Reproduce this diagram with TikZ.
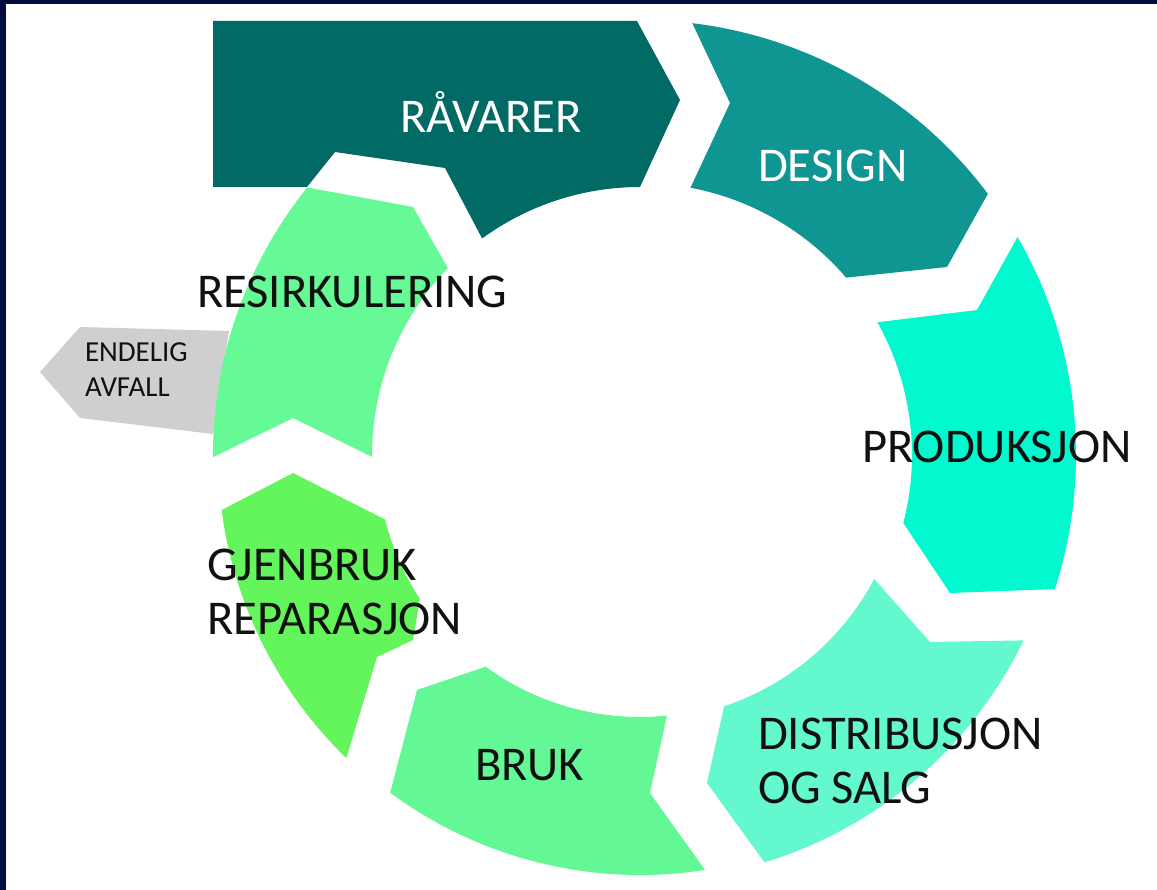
\documentclass[tikz,border=0pt]{standalone}
\usepackage{fontspec}
\setmainfont{Carlito}
\usetikzlibrary{calc}
\definecolor{navy}{RGB}{1,12,62}
\definecolor{rawc}{RGB}{1,106,101}
\definecolor{designc}{RGB}{16,150,146}
\definecolor{prodc}{RGB}{2,248,206}
\definecolor{distc}{RGB}{100,248,206}
\definecolor{brukc}{RGB}{100,247,150}
\definecolor{gjenc}{RGB}{100,245,92}
\definecolor{resc}{RGB}{102,250,150}
\definecolor{greyc}{RGB}{207,207,207}
\definecolor{ink}{RGB}{17,17,17}
\begin{document}
\begin{tikzpicture}[x=1pt,y=-1pt,
  lbl/.style={inner sep=0pt, outer sep=0pt, anchor=base west, text=ink, font=\fontsize{48.5}{54}\selectfont},
  lbltwo/.style={lbl, anchor=north west, align=left},
  smalllbl/.style={inner sep=0pt, outer sep=0pt, anchor=north west, align=left, text=ink, font=\fontsize{29}{35}\selectfont}]
\useasboundingbox (0,0) rectangle (1157,890);
\fill[white] (0,0) rectangle (1160,893);
\fill[navy] (-2,-2) rectangle (1160,4);
\fill[navy] (-2,-2) rectangle (6,893);
\coordinate (O) at (640,455);

% ENDELIG AVFALL (grey, behind)
\fill[greyc] (40,372) -- (80,327) -- (229,331) -- (213,434) -- (80,418) -- cycle;

% RAVARER
\fill[rawc] (213,21) -- (637,21) -- (680,100) -- ($(O)+(-90:268)$)
  arc[start angle=-90, end angle=-126.1, radius=268]
  -- (445,168) -- (335,152) -- (307,187) -- (213,187) -- cycle;

% DESIGN
\fill[designc] ($(O)+(-83.1:435)$) arc[start angle=-83.1, end angle=-36.9, radius=435]
  -- (947,267) -- ($(O)+(-40.7:272)$) arc[start angle=-40.7, end angle=-79.3, radius=272]
  -- (730,103) -- cycle;

% PRODUKSJON
\fill[prodc] ($(O)+(-30:436)$) arc[start angle=-30, end angle=17.9, radius=436]
  -- (950,593) -- ($(O)+(14.5:272)$) arc[start angle=14.5, end angle=-29.2, radius=272]
  -- (977,310) -- cycle;

% DISTRIBUSJON OG SALG
\fill[distc] ($(O)+(27.9:265)$) -- (930,642) -- ($(O)+(25.8:426)$)
  arc[start angle=25.8, end angle=73, radius=426]
  -- (707,783) -- ($(O)+(71.5:265)$) arc[start angle=71.5, end angle=27.9, radius=265] -- cycle;

% BRUK
\fill[brukc] ($(O)+(84.1:262)$) -- (650,793) -- ($(O)+(81.1:420)$)
  arc[start angle=81.1, end angle=126.5, radius=420]
  -- (417,690) -- ($(O)+(126.1:262)$) arc[start angle=126.1, end angle=84.1, radius=262] -- cycle;

% GJENBRUK REPARASJON
\fill[gjenc] (293,473) -- ($(O)+(165.8:263)$) arc[start angle=165.8, end angle=146.8, radius=263]
  -- (413,640) -- (377,657) -- ($(O)+(134.1:422)$)
  arc[start angle=134.1, end angle=172.5, radius=422] -- cycle;

% RESIRKULERING
\fill[resc] ($(O)+(218.8:427)$) -- (413,207) -- ($(O)+(224.2:268)$)
  arc[start angle=224.2, end angle=179.6, radius=268]
  -- (293,418) -- ($(O)+(179.7:427)$) arc[start angle=179.7, end angle=218.8, radius=427] -- cycle;

% labels
\node[lbl, text=white] (ravarer) at (400,133) {RÅVARER};
\node[lbl, text=white] (design) at (758,182) {DESIGN};
\node[lbl] (produksjon) at (862,462) {PRODUKSJON};
\node[lbltwo] (distribusjon) at (758,718) {DISTRIBUSJON\\OG SALG};
\node[lbl] (bruk) at (475,780) {BRUK};
\node[lbltwo] (gjenbruk) at (207,549) {GJENBRUK\\REPARASJON};
\node[lbl] (resirkulering) at (197,308) {RESIRKULERING};
\node[smalllbl] (endelig) at (85,343) {ENDELIG\\AVFALL};
\end{tikzpicture}
\end{document}
